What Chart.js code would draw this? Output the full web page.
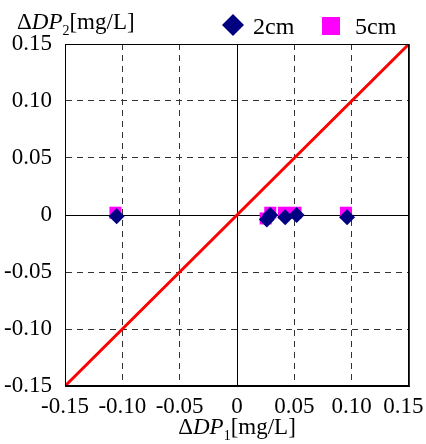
<!DOCTYPE html>
<html>
<head>
<meta charset="utf-8">
<script src="https://cdn.jsdelivr.net/npm/chart.js@4.4.0/dist/chart.umd.min.js"></script>
<style>
  html, body { margin: 0; padding: 0; background: #fff; }
  canvas { display: block; }
</style>
</head>
<body>
<canvas id="myChart" width="426" height="444"></canvas>
<script>
// Data
const seriesNames = ['2cm', '5cm'];
const x2cm = [-0.105, 0.026, 0.029, 0.042, 0.052, 0.096];
const y2cm = [-0.001, -0.004, 0.000, -0.002, 0.000, -0.002];
const x5cm = [-0.106, 0.025, 0.029, 0.041, 0.051, 0.095];
const y5cm = [0.002, -0.003, 0.002, 0.002, 0.002, 0.002];
const lineX = [-0.15, 0.15];
const lineY = [-0.15, 0.15];
const tickValues = [-0.15, -0.10, -0.05, 0, 0.05, 0.10, 0.15];
const tickLabels = ['-0.15', '-0.10', '-0.05', '0', '0.05', '0.10', '0.15'];

const serif = '"Liberation Serif", "DejaVu Serif", serif';

function toPoints(xs, ys) {
    return xs.map((x, i) => ({ x: x, y: ys[i] }));
}

// solid lines at 0 and the frame, dashed elsewhere
function gridDash(ctx) {
    if (!ctx.tick) return [];
    const v = ctx.tick.value;
    if (Math.abs(v) < 1e-9 || Math.abs(Math.abs(v) - 0.15) < 1e-9) return [];
    return [6, 5];
}

function gridColor(ctx) {
    if (ctx.tick && Math.abs(ctx.tick.value) < 1e-9) return '#000';
    return '#333';
}

function axisOptions(size, pad, horizontal) {
    return {
        type: 'linear',
        min: -0.15,
        max: 0.15,
        afterBuildTicks: scale => {
            scale.ticks = tickValues.map(v => ({ value: v }));
        },
        afterFit: scale => {
            if (scale.isHorizontal()) scale.height = size;
            else scale.width = size;
            // let the layout padding alone decide the plot edges
            scale.paddingLeft = 0;
            scale.paddingRight = 0;
            scale.paddingTop = 0;
            scale.paddingBottom = 0;
        },
        ticks: {
            color: '#000',
            font: { family: serif, size: 23 },
            padding: pad,
            autoSkip: false,
            maxRotation: 0,
            // last x label is pushed a little left so it stays on the page
            callback: (v, i) => tickLabels[i] + (horizontal && i === tickLabels.length - 1 ? '\u2002' : '')
        },
        grid: {
            color: gridColor,
            lineWidth: 1,
            drawTicks: false
        },
        border: {
            display: true,
            color: '#000',
            width: 1,
            dash: gridDash
        }
    };
}

// draw a run of text pieces with different styles
function drawPieces(c, pieces, x, y) {
    pieces.forEach(p => {
        c.font = p.font;
        c.fillText(p.text, x, y + (p.dy || 0));
        x += c.measureText(p.text).width;
    });
}

function piecesWidth(c, pieces) {
    let w = 0;
    pieces.forEach(p => {
        c.font = p.font;
        w += c.measureText(p.text).width;
    });
    return w;
}

const labelsPlugin = {
    id: 'labels',
    afterDraw(chart) {
        const c = chart.ctx;
        const area = chart.chartArea;
        c.save();
        c.fillStyle = '#000';
        c.textBaseline = 'alphabetic';
        c.textAlign = 'left';

        // frame
        c.strokeStyle = '#000';
        c.lineWidth = 1;
        c.strokeRect(area.left + 0.5, area.top + 0.5, area.right - area.left - 1, area.bottom - area.top - 1);

        const normal = '23px ' + serif;
        const italic = 'italic 23px ' + serif;
        const small = '14px ' + serif;

        const yTitle = [
            { text: '\u0394', font: normal },
            { text: 'DP', font: italic },
            { text: '2', font: small, dy: 6 },
            { text: '[mg/L]', font: normal }
        ];
        drawPieces(c, yTitle, 17, 29);

        const xTitle = [
            { text: '\u0394', font: normal },
            { text: 'DP', font: italic },
            { text: '1', font: small, dy: 6 },
            { text: '[mg/L]', font: normal }
        ];
        const cx = (area.left + area.right) / 2;
        drawPieces(c, xTitle, cx - piecesWidth(c, xTitle) / 2, 434);

        // legend
        c.fillStyle = '#000080';
        c.beginPath();
        c.moveTo(233, 14);
        c.lineTo(244, 25);
        c.lineTo(233, 36);
        c.lineTo(222, 25);
        c.closePath();
        c.fill();
        c.fillStyle = '#000';
        c.font = '24px ' + serif;
        c.fillText(seriesNames[0], 253, 34);
        c.fillStyle = '#ff00ff';
        c.fillRect(322, 17, 18, 18);
        c.fillStyle = '#000';
        c.fillText(seriesNames[1], 355, 34);
        c.restore();
    }
};

const ctx = document.getElementById('myChart').getContext('2d');
const myChart = new Chart(ctx, {
    type: 'scatter',
    data: {
        datasets: [
            {
                label: seriesNames[0],
                data: toPoints(x2cm, y2cm),
                pointStyle: 'rectRot',
                pointRadius: 8,
                backgroundColor: '#000080',
                borderColor: '#000080',
                borderWidth: 0
            },
            {
                label: seriesNames[1],
                data: toPoints(x5cm, y5cm),
                pointStyle: 'rect',
                pointRadius: 8.5,
                backgroundColor: '#ff00ff',
                borderColor: '#ff00ff',
                borderWidth: 0
            },
            {
                label: 'y=x',
                type: 'line',
                data: toPoints(lineX, lineY),
                borderColor: '#ff0000',
                borderWidth: 3,
                pointRadius: 0,
                fill: false
            }
        ]
    },
    options: {
        responsive: false,
        animation: false,
        layout: {
            padding: { top: 44, right: 17, left: 0, bottom: 0 }
        },
        scales: {
            x: axisOptions(58, 7, true),
            y: axisOptions(65, 13, false)
        },
        plugins: {
            legend: { display: false },
            tooltip: { enabled: false }
        }
    },
    plugins: [labelsPlugin]
});
</script>
</body>
</html>
